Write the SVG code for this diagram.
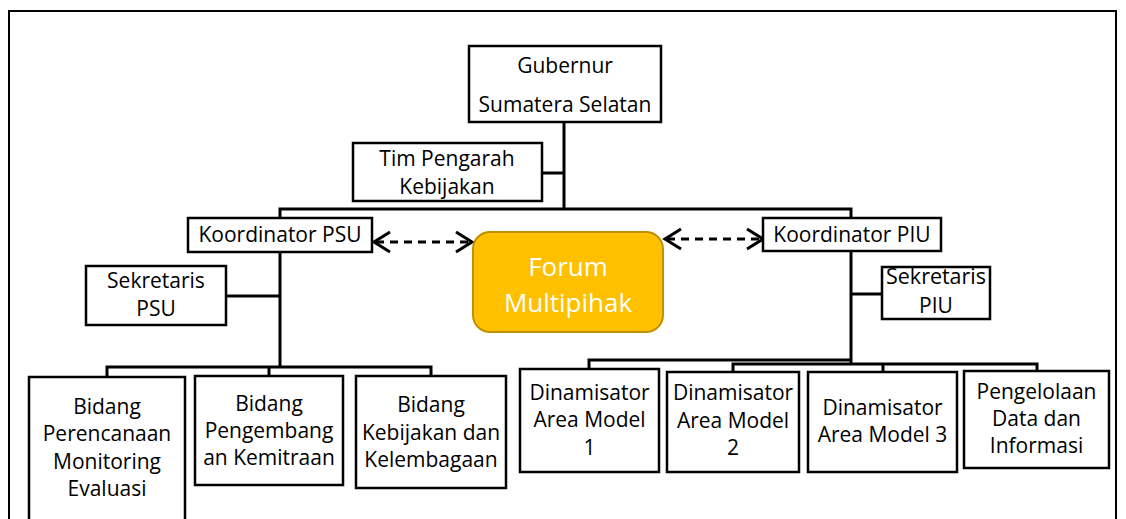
<svg xmlns="http://www.w3.org/2000/svg" width="1126" height="519" viewBox="0 0 1126 519">
<style>
.box{fill:#fff;stroke:#000;stroke-width:2.5}
.t{font-family:"Open Sans","Noto Sans",sans-serif;font-size:21px;fill:#000;text-anchor:middle}
.ft{font-family:"Open Sans","Noto Sans",sans-serif;font-size:26px;fill:#fff;text-anchor:middle}
.ln{fill:none;stroke:#000;stroke-width:3}
.dash{fill:none;stroke:#000;stroke-width:3;stroke-dasharray:8 6}
.ah{fill:none;stroke:#000;stroke-width:3}
</style>
<rect x="0" y="0" width="1126" height="519" fill="#fff"/>
<path d="M9,530 V11 H1116 V530" fill="none" stroke="#000" stroke-width="2"/>
<g id="connectors">
<path class="ln" d="M564,122 V209"/>
<path class="ln" d="M542,173 H564"/>
<path class="ln" d="M280,218 V209 H851 V218"/>
<path class="ln" d="M280,252 V367"/>
<path class="ln" d="M226,296 H280"/>
<path class="ln" d="M107,377 V367 H431 V376"/>
<path class="ln" d="M269,367 V376"/>
<path class="ln" d="M851,251 V364"/>
<path class="ln" d="M851,294 H882"/>
<path class="ln" d="M589,369 V360 H851"/>
<path class="ln" d="M733,372 V364 H1037 V371"/>
<path class="ln" d="M883,364 V372"/>
<path class="dash" d="M376,242 H468"/>
<path class="ah" d="M390,232 L374,242 L390,252 M456,232 L472,242 L456,252"/>
<path class="dash" d="M667,239 H759"/>
<path class="ah" d="M681,229 L665,239 L681,249 M747,229 L763,239 L747,249"/>
</g>
<g id="gubernur"><rect class="box" x="469" y="46" width="192" height="76"/><text class="t" x="565" y="73">Gubernur</text><text class="t" x="565" y="112">Sumatera Selatan</text></g>
<g id="tim-pengarah"><rect class="box" x="353" y="143" width="189" height="58"/><text class="t" x="447" y="166">Tim Pengarah</text><text class="t" x="447" y="194">Kebijakan</text></g>
<g id="koordinator-psu"><rect class="box" x="188" y="218" width="184" height="34"/><text class="t" x="280" y="242">Koordinator PSU</text></g>
<g id="koordinator-piu"><rect class="box" x="763" y="218" width="178" height="33"/><text class="t" x="852" y="242">Koordinator PIU</text></g>
<g id="forum"><rect x="473" y="232" width="190" height="100" rx="17" fill="#FFC000" stroke="#BF9000" stroke-width="2"/><text class="ft" x="568" y="276">Forum</text><text class="ft" x="568" y="312">Multipihak</text></g>
<g id="sekretaris-psu"><rect class="box" x="86" y="266" width="140" height="59"/><text class="t" x="156" y="288">Sekretaris</text><text class="t" x="156" y="316">PSU</text></g>
<g id="sekretaris-piu"><rect class="box" x="882" y="267" width="108" height="52"/><text class="t" x="936" y="284" textLength="100" lengthAdjust="spacingAndGlyphs">Sekretaris</text><text class="t" x="936" y="313">PIU</text></g>
<g id="bidang-perencanaan"><rect class="box" x="29" y="377" width="156" height="160"/><text class="t" x="107" y="414">Bidang</text><text class="t" x="107" y="441">Perencanaan</text><text class="t" x="107" y="469">Monitoring</text><text class="t" x="107" y="496">Evaluasi</text></g>
<g id="bidang-pengembangan"><rect class="box" x="195" y="376" width="148" height="109"/><text class="t" x="269" y="411">Bidang</text><text class="t" x="269" y="438">Pengembang</text><text class="t" x="269" y="465">an Kemitraan</text></g>
<g id="bidang-kebijakan"><rect class="box" x="356" y="376" width="150" height="112"/><text class="t" x="431" y="412">Bidang</text><text class="t" x="431" y="440">Kebijakan dan</text><text class="t" x="431" y="467">Kelembagaan</text></g>
<g id="dinamisator-1"><rect class="box" x="520" y="369" width="139" height="103"/><text class="t" x="589.5" y="400">Dinamisator</text><text class="t" x="589.5" y="427">Area Model</text><text class="t" x="589.5" y="455">1</text></g>
<g id="dinamisator-2"><rect class="box" x="667" y="372" width="132" height="100"/><text class="t" x="733" y="400">Dinamisator</text><text class="t" x="733" y="428">Area Model</text><text class="t" x="733" y="455">2</text></g>
<g id="dinamisator-3"><rect class="box" x="808" y="372" width="149" height="100"/><text class="t" x="882.5" y="415">Dinamisator</text><text class="t" x="882.5" y="442">Area Model 3</text></g>
<g id="pengelolaan"><rect class="box" x="964" y="371" width="145" height="97"/><text class="t" x="1036.5" y="399">Pengelolaan</text><text class="t" x="1036.5" y="426">Data dan</text><text class="t" x="1036.5" y="453">Informasi</text></g>
</svg>
